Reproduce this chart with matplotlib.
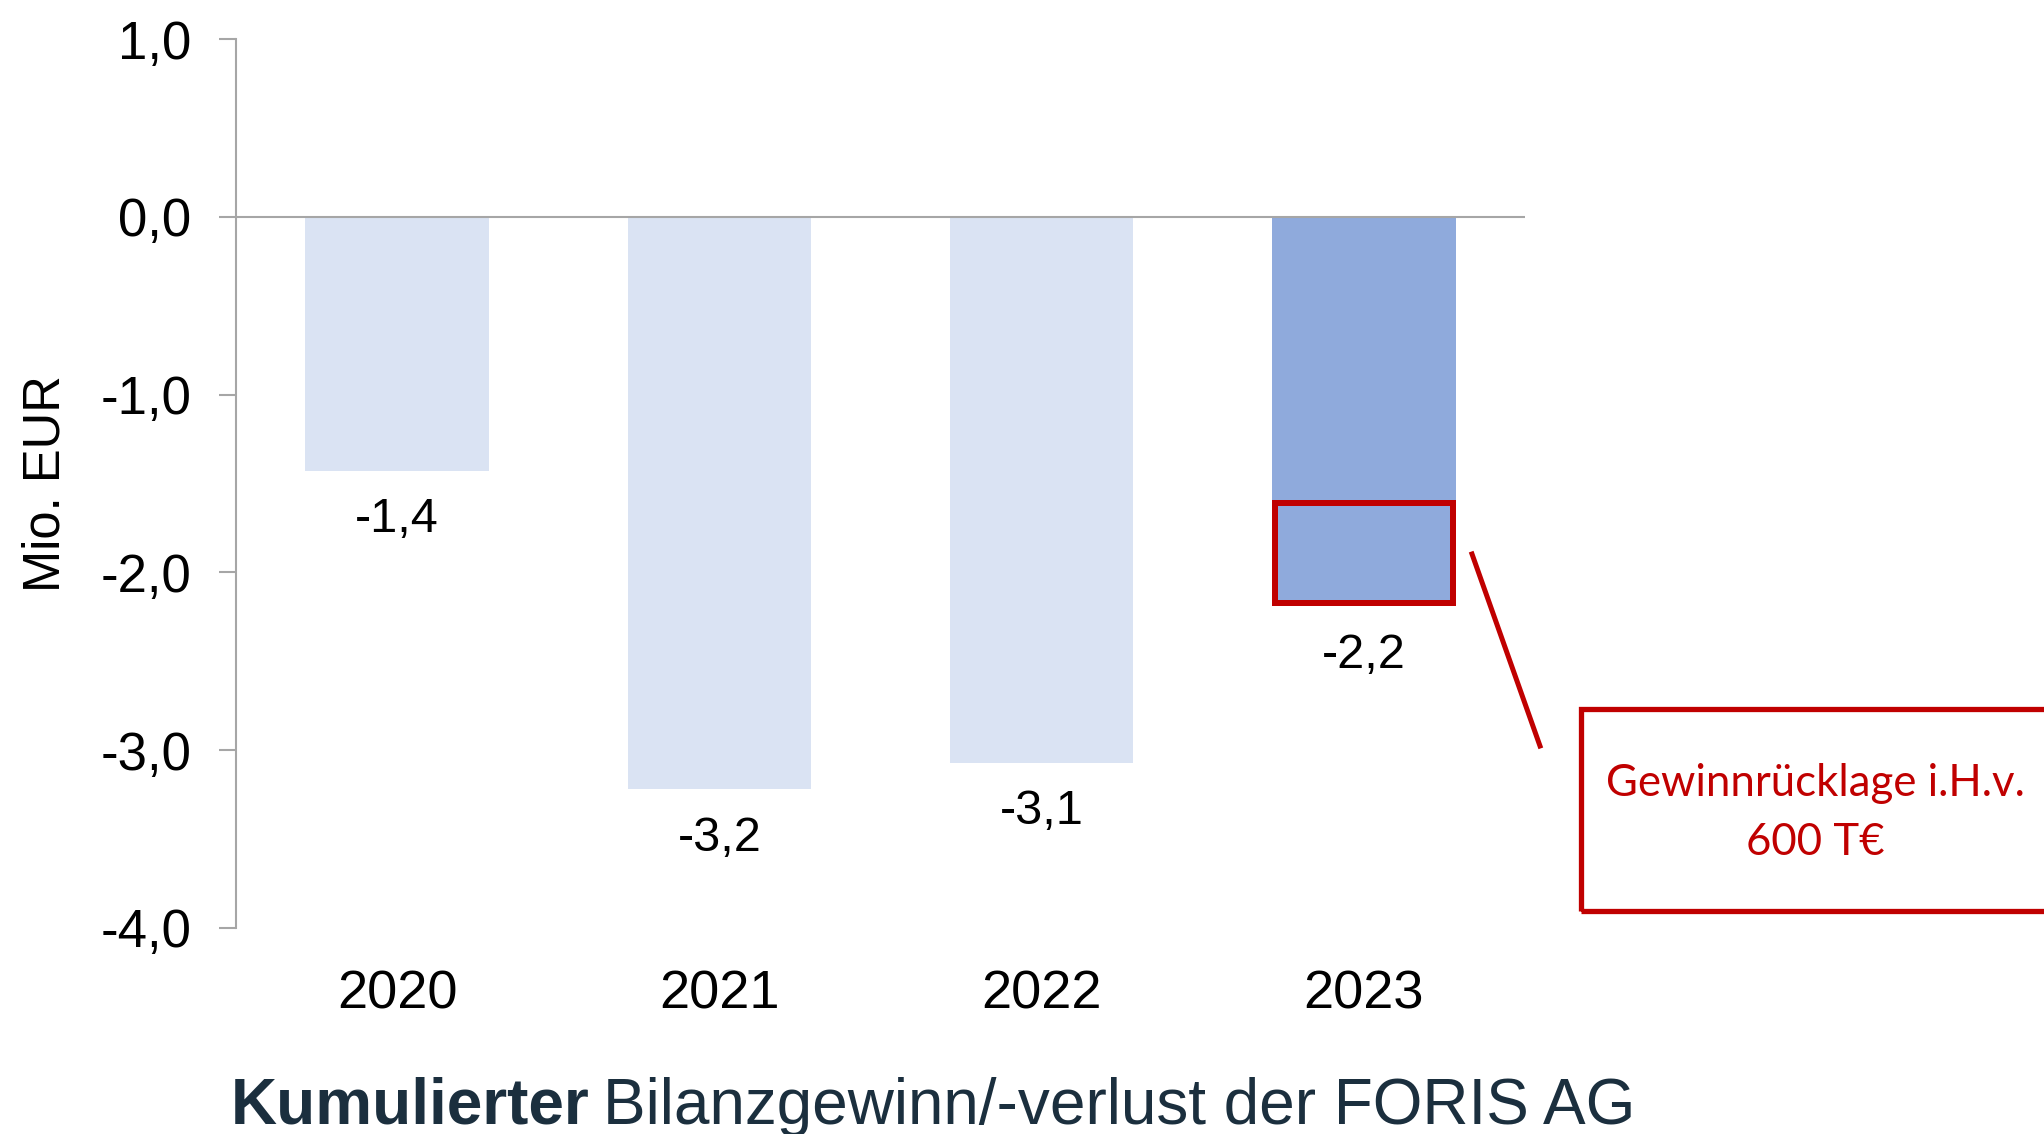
import matplotlib
matplotlib.use("Agg")
import matplotlib.pyplot as plt
from matplotlib.patches import Rectangle
from matplotlib.lines import Line2D

# ---- data ----
years = ["2020", "2021", "2022", "2023"]
values = [-1.43, -3.22, -3.07, -2.19]
value_labels = ["-1,4", "-3,2", "-3,1", "-2,2"]
reserve = 0.6  # Gewinnrücklage 600 T€ (highlighted part of 2023 bar)
yticks = [1.0, 0.0, -1.0, -2.0, -3.0, -4.0]
ytick_labels = ["1,0", "0,0", "-1,0", "-2,0", "-3,0", "-4,0"]
bar_colors = ["#DAE3F3", "#DAE3F3", "#DAE3F3", "#8FAADC"]

RED = "#C00000"
GREY = "#A6A6A6"
FONT = "Liberation Sans"

W, H = 2044, 1134
fig = plt.figure(figsize=(W / 100, H / 100), dpi=100)
fig.patch.set_facecolor("white")

def fx(px):
    return px / W

def fy(py):
    return 1 - py / H

ax = fig.add_axes([fx(236), fy(928), fx(1525) - fx(236), fy(39) - fy(928)])
x = list(range(len(years)))
bw = 0.57
ax.bar(x, values, width=bw, color=bar_colors, zorder=2)
ax.set_xlim(-0.5, 3.5)
ax.set_ylim(-4.0, 1.0)

# zero line
ax.axhline(0, color=GREY, lw=1.5, zorder=3)

# spines
for s in ["top", "right", "bottom"]:
    ax.spines[s].set_visible(False)
ax.spines["left"].set_color(GREY)
ax.spines["left"].set_linewidth(1.5)

ax.set_yticks(yticks)
ax.set_yticklabels(ytick_labels, fontfamily=FONT, fontsize=38)
ax.tick_params(axis="y", length=12, width=1.5, color=GREY, pad=20, labelcolor="black")
ax.set_xticks(x)
ax.set_xticklabels(years, fontfamily=FONT, fontsize=39)
ax.tick_params(axis="x", length=0, pad=30, labelcolor="black")

ax.set_ylabel("Mio. EUR", fontfamily=FONT, fontsize=36.5, labelpad=22)

# value labels below bars
for xi, v, lab in zip(x, values, value_labels):
    ax.annotate(lab, xy=(xi, v), xytext=(0, -19), textcoords="offset points",
                ha="center", va="top", fontfamily=FONT, fontsize=35, color="black")

# highlighted reserve box inside the 2023 bar (stroke inset into bar)
lw_px = 6
bb = ax.get_window_extent()
px_per_x = bb.width / 4.0
px_per_y = bb.height / 5.0
ix = (lw_px / 2) / px_per_x
iy = (lw_px / 2) / px_per_y
x3 = x[3]
ax.add_patch(Rectangle((x3 - bw / 2 + ix, values[3] + iy), bw - 2 * ix, reserve - 2 * iy,
                       fill=False, edgecolor=RED, lw=lw_px * 0.72, zorder=4,
                       joinstyle="miter"))

# callout connector line and box (figure coordinates)
fig.add_artist(Line2D([fx(1472), fx(1540)], [fy(554), fy(746)], color=RED, lw=3.6))
fig.add_artist(Rectangle((fx(1581), fy(911)), fx(600), fy(709) - fy(911),
                         fill=False, edgecolor=RED, lw=3.8, transform=fig.transFigure,
                         clip_on=False))
fig.text(fx(1815), fy(796), "Gewinnrücklage i.H.v.", ha="center", va="baseline",
         fontfamily="Lato", fontsize=31.5, color=RED)
fig.text(fx(1815), fy(855), "600 T€", ha="center", va="baseline",
         fontfamily="Lato", fontsize=31.5, color=RED)

# title with bold first word
TITLE_C = "#1B2F3E"
t1 = fig.text(fx(231), fy(1124), "Kumulierter", ha="left", va="baseline",
              fontfamily=FONT, fontsize=46, fontweight="bold", color=TITLE_C)
fig.canvas.draw()
ext = t1.get_window_extent(renderer=fig.canvas.get_renderer())
fig.text(ext.x1 / W + fx(13), fy(1124), "Bilanzgewinn/-verlust der FORIS AG",
         ha="left", va="baseline", fontfamily=FONT, fontsize=46, color=TITLE_C)

fig.savefig("out.png", dpi=100, facecolor="white")
